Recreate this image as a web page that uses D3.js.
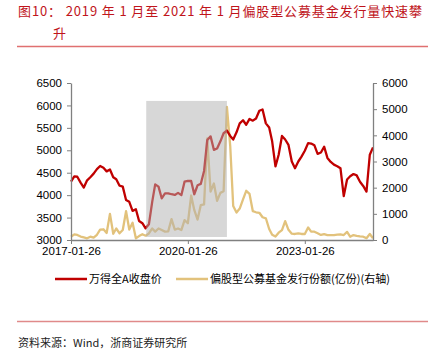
<!DOCTYPE html>
<html>
<head>
<meta charset="utf-8">
<script src="https://cdn.jsdelivr.net/npm/d3@7"></script>
<style>
  body { margin: 0; background: #fff; }
  svg { display: block; }
</style>
</head>
<body>
<div id="CHART"></div>
<script>
// monthly points, 2017-01-26 .. 2024-10-26
var startDate = "2017-01-26";
var windAll = [4300, 4420, 4410, 4280, 4170, 4330, 4400, 4480, 4580, 4650, 4610, 4530,
    4570, 4400, 4355, 4210, 4190, 3890, 3850, 3650, 3685, 3425, 3375, 3260,
    3350, 3850, 4240, 4190, 3930, 4040, 4040, 4020, 4005, 4050, 4000, 4300,
    4320, 4315, 4020, 4220, 4250, 4540, 5230, 5310, 5010, 5040, 5200, 5380,
    5440, 5320, 5240, 5400, 5600, 5670, 5570, 5700, 5660, 5710, 5880, 5910,
    5600, 5510, 5200, 4640, 4900, 5320, 5240, 5120, 4750, 4600, 4750, 4860,
    4990, 5160, 5150, 5110, 4920, 4950, 5080, 4830, 4740, 4680, 4645, 4600,
    3980, 4350, 4420, 4470, 4440, 4300, 4205, 4080, 4900, 5065];
var fundIssue = [126, 215, 195, 130, 100, 65, 125, 90, 200, 400, 410, 270,
    1000, 240, 440, 256, 380, 1100, 400, 660, 65, 150, 220, 165,
    250, 440, 320, 440, 380, 320, 330, 800, 400, 440, 380, 760,
    640, 1700, 1150, 780, 1330, 1360, 3880, 1850, 2160, 1500, 1800, 1860,
    5090, 3600, 1300, 1050, 1200, 1550, 1880, 1760, 1100, 1060, 1040, 870,
    830, 420, 200, 130, 280, 380, 720, 390, 240, 230, 256, 230,
    230, 480, 320, 317, 260, 195, 225, 185, 190, 190, 205, 215,
    190, 310, 126, 190, 160, 140, 126, 70, 230, 65];
var leftTicks = [3000, 3500, 4000, 4500, 5000, 5500, 6000, 6500];
var rightTicks = [0, 1000, 2000, 3000, 4000, 5000, 6000];
var xTicks = ["2017-01-26", "2020-01-26", "2023-01-26"];
var shadeRange = ["2019-01-01", "2021-01-26"];
var shadeTop = 6100;
var seriesNames = ["万得全A收盘价", "偏股型公募基金发行份额(亿份)(右轴)"];

var WIDTH = 438, HEIGHT = 353;
var MARGIN = {LEFT: 71, RIGHT: 65, TOP: 83, BOTTOM: 113};
var RED = "#c00000", GOLD = "#e2c27c";

var parse = d3.timeParse("%Y-%m-%d");
var dates = windAll.map(function(d, i) { return d3.timeMonth.offset(parse(startDate), i); });

var svg = d3.select("#CHART")
    .append("svg")
    .attr("width", WIDTH)
    .attr("height", HEIGHT)
    .style("font-family", "'Liberation Sans', Arial, sans-serif");

// title
var title = svg.append("g").attr("fill", "#c0141b")
    .style("font-family", "'Noto Sans CJK SC', sans-serif").style("font-size", "13px");
title.append("text").attr("x", 18).attr("y", 16)
    .attr("textLength", 404).attr("lengthAdjust", "spacing")
    .text("图10：  2019 年 1 月至 2021 年 1 月偏股型公募基金发行量快速攀");
title.append("text").attr("x", 53).attr("y", 38).text("升");
svg.append("line").attr("x1", 17).attr("x2", 428).attr("y1", 46.5).attr("y2", 46.5)
    .attr("stroke", "#e07070").attr("stroke-width", 1.3);

var x = d3.scaleTime()
    .domain(d3.extent(dates))
    .range([MARGIN.LEFT, WIDTH - MARGIN.RIGHT]);

var yL = d3.scaleLinear().domain([3000, 6500]).range([240, 83]);
var yR = d3.scaleLinear().domain([0, 6000]).range([240, 83]);

// lines
var lineL = d3.line().x(function(d, i) { return x(dates[i]); }).y(function(d) { return yL(d); });
var lineR = d3.line().x(function(d, i) { return x(dates[i]); }).y(function(d) { return yR(d); });

svg.append("path").datum(fundIssue)
    .attr("fill", "none").attr("stroke", GOLD).attr("stroke-width", 2.3)
    .attr("stroke-linejoin", "round").attr("d", lineR);
svg.append("path").datum(windAll)
    .attr("fill", "none").attr("stroke", RED).attr("stroke-width", 2.3)
    .attr("stroke-linejoin", "round").attr("d", lineL);

// shaded period sits on top of the lines
svg.append("rect")
    .attr("x", x(parse(shadeRange[0])))
    .attr("width", x(parse(shadeRange[1])) - x(parse(shadeRange[0])))
    .attr("y", yL(shadeTop))
    .attr("height", yL(3000) - 3 - yL(shadeTop))
    .attr("fill", "#b0b0b0").attr("opacity", 0.5);

// axes
var fmt = d3.format("d");
var axisL = svg.append("g").attr("transform", "translate(" + MARGIN.LEFT + ",0)")
    .call(d3.axisLeft(yL).tickValues(leftTicks).tickFormat(fmt).tickSize(4).tickPadding(5).tickSizeOuter(0));
var axisR = svg.append("g").attr("transform", "translate(" + (WIDTH - MARGIN.RIGHT) + ",0)")
    .call(d3.axisRight(yR).tickValues(rightTicks).tickFormat(fmt).tickSize(4).tickPadding(5).tickSizeOuter(0));
var axisB = svg.append("g").attr("transform", "translate(0,240)")
    .call(d3.axisBottom(x).tickValues(xTicks.map(parse)).tickFormat(d3.timeFormat("%Y-%m-%d"))
        .tickSize(4).tickPadding(3).tickSizeOuter(0));

[axisL, axisR, axisB].forEach(function(a) {
    a.selectAll(".domain").attr("stroke", "#808080").attr("stroke-width", 1.3);
    a.selectAll(".tick line").attr("stroke", "#808080");
    a.selectAll("text").attr("fill", "#000").style("font-size", "11.5px")
        .style("font-family", "'Liberation Sans', Arial, sans-serif");
});

// legend
var legend = svg.append("g").style("font-family", "'Noto Sans CJK SC', sans-serif").style("font-size", "11px");
[[55, RED], [176, GOLD]].forEach(function(p, i) {
    legend.append("line").attr("x1", p[0]).attr("x2", p[0] + 32).attr("y1", 279).attr("y2", 279)
        .attr("stroke", p[1]).attr("stroke-width", 2.5);
    legend.append("text").attr("x", p[0] + 34).attr("y", 283).attr("fill", "#000")
        .text(seriesNames[i]);
});

// footer
svg.append("line").attr("x1", 17).attr("x2", 428).attr("y1", 321.5).attr("y2", 321.5)
    .attr("stroke", "#e08a8a").attr("stroke-width", 1.3);
svg.append("text").attr("x", 18).attr("y", 347).attr("fill", "#222")
    .style("font-family", "'Noto Sans CJK SC', sans-serif").style("font-size", "11px")
    .text("资料来源：Wind，浙商证券研究所");
</script>
</body>
</html>
